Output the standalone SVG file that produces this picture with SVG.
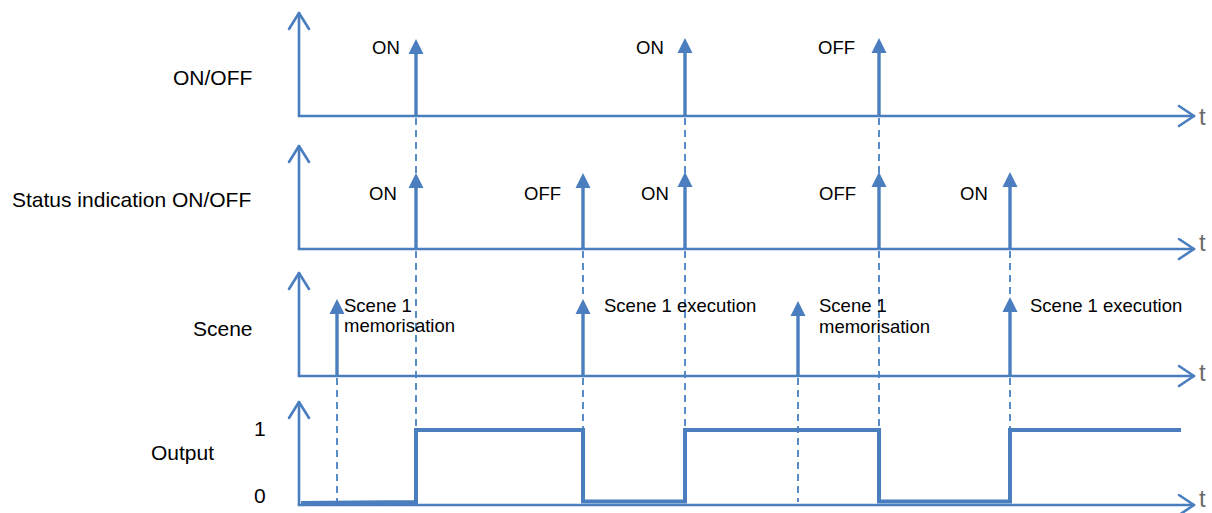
<svg xmlns="http://www.w3.org/2000/svg" width="1212" height="513" viewBox="0 0 1212 513">
<style>
.ax{fill:none;stroke:#4a7ebf;stroke-width:2.6;stroke-linecap:round;stroke-linejoin:round}
.pl{stroke:#4a7ebf;stroke-width:3.4}
.hd{fill:#4a7ebf}
.ds{fill:none;stroke:#5a8cca;stroke-width:2;stroke-dasharray:7 5}
.out{fill:none;stroke:#4a7ebf;stroke-width:4;stroke-linejoin:miter}
.lb{font-family:"Liberation Sans",Arial,sans-serif;font-size:21px;fill:#000}
.pt{font-family:"Liberation Sans",Arial,sans-serif;font-size:18.5px;fill:#000}
.t{font-family:"Liberation Sans",Arial,sans-serif;font-size:24px;fill:#6a6a6a}
</style>
<rect width="1212" height="513" fill="#fff"/>
<g id="connectors">
<line class="ds" x1="416" y1="118" x2="416" y2="174"/>
<line class="ds" x1="685" y1="118" x2="685" y2="174"/>
<line class="ds" x1="879" y1="118" x2="879" y2="174"/>
<line class="ds" x1="416" y1="251" x2="416" y2="430"/>
<line class="ds" x1="685" y1="251" x2="685" y2="430"/>
<line class="ds" x1="879" y1="251" x2="879" y2="430"/>
<line class="ds" x1="583" y1="251" x2="583" y2="296"/>
<line class="ds" x1="1010" y1="251" x2="1010" y2="294"/>
<line class="ds" x1="583" y1="378" x2="583" y2="430"/>
<line class="ds" x1="1010" y1="378" x2="1010" y2="430"/>
<line class="ds" x1="337" y1="378" x2="337" y2="502"/>
<line class="ds" x1="798" y1="378" x2="798" y2="502"/>
</g>
<g id="panel-onoff">
<text class="lb" x="173" y="85">ON/OFF</text>
<polyline class="ax" points="299,116 299,13"/>
<polyline class="ax" points="289,29 299,13 309,29"/>
<line class="ax" x1="299" y1="116" x2="1194" y2="116"/>
<polyline class="ax" points="1179,106 1194,116 1179,126"/>
<text class="t" x="1199" y="125">t</text>
<line class="pl" x1="416" y1="116" x2="416" y2="52"/><polygon class="hd" points="416,39 408.5,54 423.5,54"/>
<line class="pl" x1="685" y1="116" x2="685" y2="52"/><polygon class="hd" points="685,38 677.5,53 692.5,53"/>
<line class="pl" x1="879" y1="116" x2="879" y2="52"/><polygon class="hd" points="879,38 871.5,53 886.5,53"/>
<text class="pt" x="372" y="54">ON</text>
<text class="pt" x="636" y="54">ON</text>
<text class="pt" x="818" y="54">OFF</text>
</g>
<g id="panel-status">
<text class="lb" x="12" y="207">Status indication ON/OFF</text>
<polyline class="ax" points="299,249 299,146"/>
<polyline class="ax" points="289,162 299,146 309,162"/>
<line class="ax" x1="299" y1="249" x2="1194" y2="249"/>
<polyline class="ax" points="1179,239 1194,249 1179,259"/>
<text class="t" x="1199" y="251">t</text>
<line class="pl" x1="416" y1="249" x2="416" y2="186"/><polygon class="hd" points="416,173 408.5,188 423.5,188"/>
<line class="pl" x1="583" y1="249" x2="583" y2="186"/><polygon class="hd" points="583,173 575.5,188 590.5,188"/>
<line class="pl" x1="685" y1="249" x2="685" y2="185"/><polygon class="hd" points="685,172 677.5,187 692.5,187"/>
<line class="pl" x1="879" y1="249" x2="879" y2="185"/><polygon class="hd" points="879,172 871.5,187 886.5,187"/>
<line class="pl" x1="1010" y1="249" x2="1010" y2="185"/><polygon class="hd" points="1010,172 1002.5,187 1017.5,187"/>
<text class="pt" x="369" y="200">ON</text>
<text class="pt" x="524" y="200">OFF</text>
<text class="pt" x="641" y="200">ON</text>
<text class="pt" x="819" y="200">OFF</text>
<text class="pt" x="960" y="200">ON</text>
</g>
<g id="panel-scene">
<text class="lb" x="193" y="336">Scene</text>
<polyline class="ax" points="299,376 299,273"/>
<polyline class="ax" points="289,289 299,273 309,289"/>
<line class="ax" x1="299" y1="376" x2="1194" y2="376"/>
<polyline class="ax" points="1179,366 1194,376 1179,386"/>
<text class="t" x="1199" y="381">t</text>
<line class="pl" x1="337" y1="376" x2="337" y2="312"/><polygon class="hd" points="337,299 329.5,314 344.5,314"/>
<line class="pl" x1="583" y1="376" x2="583" y2="312"/><polygon class="hd" points="583,299 575.5,314 590.5,314"/>
<line class="pl" x1="798" y1="376" x2="798" y2="314"/><polygon class="hd" points="798,301 790.5,316 805.5,316"/>
<line class="pl" x1="1010" y1="376" x2="1010" y2="310"/><polygon class="hd" points="1010,297 1002.5,312 1017.5,312"/>
<text class="pt" x="344" y="312">Scene 1</text>
<text class="pt" x="344" y="332">memorisation</text>
<text class="pt" x="604" y="312">Scene 1 execution</text>
<text class="pt" x="819" y="312">Scene 1</text>
<text class="pt" x="819" y="333">memorisation</text>
<text class="pt" x="1030" y="312">Scene 1 execution</text>
</g>
<g id="panel-output">
<text class="lb" x="151" y="460">Output</text>
<text class="lb" x="254" y="436">1</text>
<text class="lb" x="254" y="503">0</text>
<polyline class="ax" points="299,505 299,402"/>
<polyline class="ax" points="289,418 299,402 309,418"/>
<line class="ax" x1="299" y1="505" x2="1194" y2="505"/>
<polyline class="ax" points="1179,495 1194,505 1179,515"/>
<text class="t" x="1199" y="507">t</text>
<polyline class="out" points="301,503 416,502 416,430 583,430 583,501.5 685,501.5 685,430 879,430 879,501.5 1010,501.5 1010,430 1181,430"/>
</g>
</svg>
